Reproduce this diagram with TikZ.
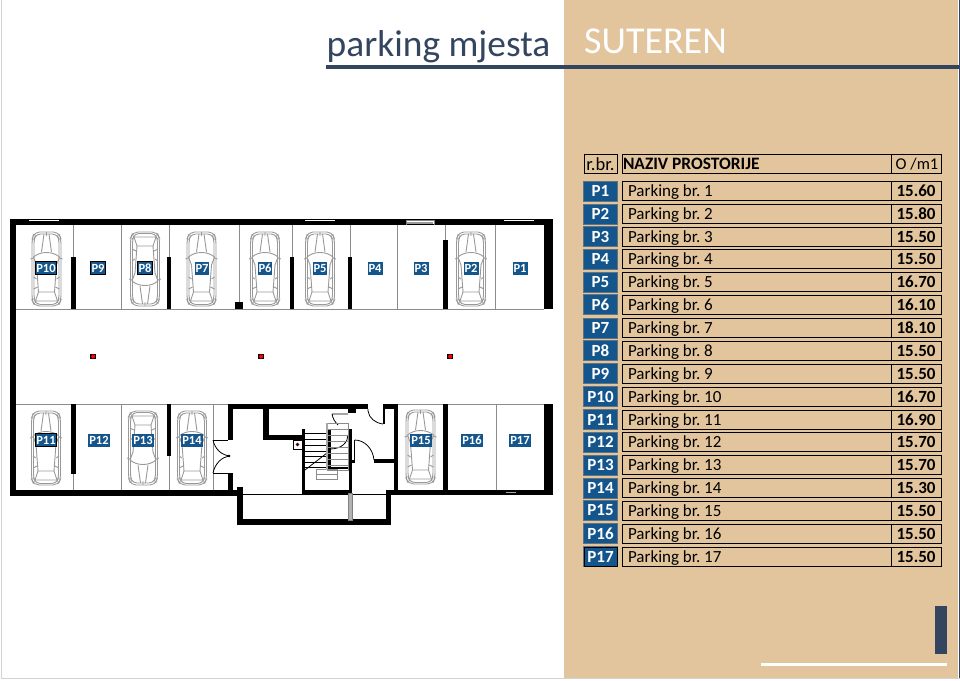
\documentclass[tikz,border=0pt]{standalone}
\usepackage{fontspec}
\setmainfont{Carlito}
\usetikzlibrary{positioning}
\definecolor{panel}{HTML}{E2C49D}
\definecolor{navy}{HTML}{33455F}
\definecolor{tagblue}{HTML}{14568C}
\definecolor{plangrey}{HTML}{8C8C8C}
\tikzset{
  wall/.style={fill=black,draw=none},
  bay/.style={draw=plangrey,line width=0.8pt},
  thin wall/.style={draw=black,line width=0.8pt},
  stair/.style={draw=plangrey,line width=0.8pt},
  carline/.style={draw=gray!80,line width=0.9pt,fill=none},
  tag/.style={fill=tagblue,text=white,font=\fontsize{12.5}{12.5}\selectfont\bfseries,inner xsep=1pt,inner ysep=0pt,minimum height=13pt},
  blacktag/.style={tag,draw=black,line width=0.8pt},
  numtag/.style={fill=tagblue,draw=gray!70!tagblue,line width=0.6pt,text=white,font=\fontsize{17}{17}\selectfont\bfseries,inner sep=0pt,minimum width=34pt,minimum height=20pt},
  namebox/.style={draw=black,line width=0.9pt,inner sep=0pt,minimum width=269pt,minimum height=19pt,text width=257pt,text height=13pt,text depth=2pt,align=flush left,font=\fontsize{17}{17}\selectfont},
  ratebox/.style={draw=black,line width=0.9pt,inner sep=0pt,minimum width=50pt,minimum height=19pt,font=\fontsize{17}{17}\selectfont\bfseries},
  marker/.pic={
    \fill[black] (-3,-2.5) rectangle (3,2.5);
    \fill[red] (0.2,0) circle (2.1);
  },
  car/.pic={
    \draw[carline,rounded corners=5pt] (-14.5,-30) -- (-12,-37) -- (12,-37) -- (14.5,-30) -- (14.5,31) -- (12,37) -- (-12,37) -- (-14.5,31) -- cycle;
    \draw[carline,rounded corners=4pt] (-12.5,-30) -- (-10,-35) -- (10,-35) -- (12.5,-30) -- (12.5,30) -- (10,35.5) -- (-10,35.5) -- (-12.5,30) -- cycle;
    \draw[carline] (-2.5,-35) -- (-5,-17) (2.5,-35) -- (5,-17) (0,-37) -- (0,-33);
    \draw[carline] (-13,-12) .. controls (-6,-18) and (6,-18) .. (13,-12);
    \draw[carline] (-13,-12) -- (-10,-4) (13,-12) -- (10,-4);
    \draw[carline] (-16,-10) -- (-13,-11) (16,-10) -- (13,-11);
    \draw[carline] (-10,-4) -- (-8,23) (10,-4) -- (8,23);
    \draw[carline] (-8,23) -- (8,23) -- (11,32) -- (-11,32) -- cycle;
    \draw[carline] (-13,8) -- (-10,10) (13,8) -- (10,10) (-13,20) -- (-9,18) (13,20) -- (9,18);
  },
}
\begin{document}
\frenchspacing
\begin{tikzpicture}[x=1pt,y=-1pt]
  \useasboundingbox (0,0) rectangle (960,680);
  \fill[white] (0,0) rectangle (960,680);
  \draw[gray!35,line width=1pt] (1.5,0) -- (1.5,678.5) -- (960,678.5);
  \fill[panel] (564,0) rectangle (958,678);
  \fill[navy] (958.5,0) rectangle (960,678);

  \node[anchor=base west,inner sep=0pt,text=navy,font=\fontsize{37.4}{37.4}\selectfont] (title) at (326.5,56) {parking mjesta};
  \node[anchor=base west,inner sep=0pt,text=white,font=\fontsize{38}{38}\selectfont] (floor) at (584,53) {SUTEREN};
  \fill[navy] (326,65) rectangle (960,69);
  \fill[navy] (935,606) rectangle (947,654);
  \fill[white] (761,663) rectangle (947,666);

  % table
  \node[draw=black,line width=0.9pt,inner sep=0pt,minimum width=33pt,minimum height=19.5pt,font=\fontsize{18.5}{18.5}\selectfont] (headno) at (600.5,164) {r.br.};
  \node[namebox,font=\fontsize{17.4}{17.4}\selectfont\bfseries,minimum height=19.5pt] (headname) at (756.5,164) {\hspace{-5pt}NAZIV PROSTORIJE};
  \node[ratebox,font=\fontsize{16.5}{16.5}\selectfont,minimum height=19.5pt] (headrate) at (916,164) {\hspace{2pt}O /m1};
  \foreach \n/\yy/\val in {1/191/15.60,2/214/15.80,3/236.5/15.50,4/259/15.50,5/282/16.70,6/304.5/16.10,7/328/18.10,8/350.5/15.50,9/373.5/15.50,10/396.5/16.70,11/419.5/16.90,12/442/15.70,13/465/15.70,14/488/15.30,15/510.5/15.50,16/533.5/15.50,17/556.5/15.50}{
    \node[numtag] (num\n) at (600.5,\yy) {P\n};
    \node[namebox] (name\n) at (756.5,\yy) {Parking br. \n};
    \node[ratebox] (rate\n) at (916,\yy) {\val};
  }
  \node[draw=black,line width=0.8pt,inner sep=0pt,minimum width=33pt,minimum height=19pt] (numend) at (num17) {};

  % bays
  \foreach \xx in {73,121.5,169,239,292,350,397.5,445,495}{
    \draw[bay] (\xx,225) -- (\xx,309);
  }
  \foreach \xx in {73,121.5,169,213}{
    \draw[bay] (\xx,404) -- (\xx,490);
  }
  \draw[bay] (496,404) -- (496,490);
  \draw[bay] (16,309) -- (544,309);
  \draw[bay] (16,404) -- (228,404);
  \draw[bay] (398,404) -- (544,404);

  % walls
  \fill[wall] (10,219) rectangle (553,225);
  \fill[wall] (10,219) rectangle (16,495);
  \fill[wall] (544,219) rectangle (553,309);
  \fill[wall] (10,490) rectangle (243,495.5);
  \fill[wall] (71,257) rectangle (76,309);
  \fill[wall] (167,257) rectangle (171,309);
  \fill[wall] (235,302) rectangle (243,309);
  \fill[wall] (290,257) rectangle (294,309);
  \fill[wall] (348,257) rectangle (352,309);
  \fill[wall] (443,240) rectangle (448,309);
  \fill[wall] (71,404) rectangle (76,474);
  \fill[wall] (167,404) rectangle (171,456);
  \fill[wall] (228,404) rectangle (368,409);
  \fill[wall] (228,404) rectangle (233,440);
  \fill[wall] (228,473) rectangle (233,490);
  \fill[wall] (263,404) rectangle (269,440);
  \fill[wall] (263,435) rectangle (305,440);
  \fill[wall] (302,429) rectangle (305,495);
  \fill[wall] (349,429) rectangle (352,495);
  \fill[wall] (328,430) rectangle (331,469);
  \fill[wall] (328,466.5) rectangle (352,469);
  \fill[wall] (302,490) rectangle (352,495);
  \fill[wall] (237,487) rectangle (243,525);
  \fill[wall] (237,519) rectangle (391,525);
  \fill[wall] (386,490) rectangle (391,525);
  \fill[wall] (386,490) rectangle (553,495);
  \fill[wall] (383,404) rectangle (398,409);
  \fill[wall] (383,404) rectangle (385,424);
  \fill[wall] (394,404) rectangle (398,492);
  \fill[wall] (374,459) rectangle (395,463);
  \fill[wall] (348,408) rectangle (356,413);
  \fill[wall] (443,404) rectangle (448,490);
  \fill[wall] (544,404) rectangle (553,495);
  \fill[wall] (352,460) rectangle (354.5,463);
  \draw[thin wall] (243,494.5) -- (386,494.5);

  % windows
  \fill[white] (29,219.5) rectangle (59,221);
  \fill[white] (305,219.5) rectangle (335,221);
  \fill[white] (504,219.5) rectangle (534,221);
  \fill[white] (406,220) rectangle (434,224);
  \draw[gray,line width=0.6pt] (406,224.5) -- (406,220) -- (434,220) -- (434,224.5);
  \fill[gray!80] (407,222) rectangle (433,224);
  \draw[gray!70,line width=0.6pt] (506,492) -- (516,492);
  \fill[gray!60,draw=gray,line width=0.5pt] (348,493.5) rectangle (352,520);

  % doors
  \draw[thin wall] (213,440) -- (228,440) (213,473) -- (228,473);
  \draw[thin wall] (213,440) .. controls (215,449) and (221,455) .. (230,456);
  \draw[thin wall] (213,473) .. controls (215,464) and (221,457) .. (230,456);
  \fill[black] (229,456) circle (1.3);
  \draw[thin wall] (368,409) -- (368,411) .. controls (369,418) and (375,423) .. (383,424);
  \draw[thin wall] (332,414) -- (348,414) (332,414) .. controls (333,419) and (335,422) .. (338,425);
  \draw[thin wall] (348,435) .. controls (348,442) and (342,449) .. (330,449);
  \draw[thin wall] (354.5,440) .. controls (365,440) and (373,449) .. (374,460);
  \draw[thin wall] (354.5,440) -- (354.5,460);

  % stairs
  \foreach \yy in {433,439,445,451,456,462,467}{
    \draw[thin wall] (305,\yy) -- (327,\yy);
  }
  \draw[thin wall] (305,470) -- (327,453);
  \draw[stair] (327,423) rectangle (348,470);
  \foreach \yy in {429,435,441,447,453,459,465}{
    \draw[stair] (327,\yy) -- (348,\yy);
  }
  \draw[stair] (316,469) rectangle (337,479);
  \draw[stair] (316,474) -- (337,474);
  \fill[gray!70] (326,423) rectangle (328,470);
  \draw[black,line width=0.5pt,fill=white] (293,440) rectangle (302,449);
  \fill[black!70!red] (297.5,444.5) circle (1.8);

  % cars
  \foreach \xx/\yy/\flip in {46.5/269/1,145/269/-1,201.5/269/1,265/269/1,320/269/1,471/269/1,46/448/1,143/448/-1,192/448/1,420.5/447/1}{
    \pic[yscale=\flip] at (\xx,\yy) {car};
  }
  \foreach \n/\xx/\yy in {7/202/268,6/265/268,5/320/268,4/375/268,3/421/268,2/471/268,1/520/268,12/99/440,13/143/440,14/192/440,15/421/440,16/472/440,17/520/440}{
    \node[tag] (bay\n) at (\xx,\yy) {P\n};
  }
  \foreach \n/\xx/\yy in {10/46/268,9/98/268,8/145/268,11/46/440}{
    \node[blacktag] (bay\n) at (\xx,\yy) {P\n};
  }
  \pic at (93,356.5) {marker};
  \pic at (261,356.5) {marker};
  \pic at (450,356.5) {marker};
\end{tikzpicture}
\end{document}
